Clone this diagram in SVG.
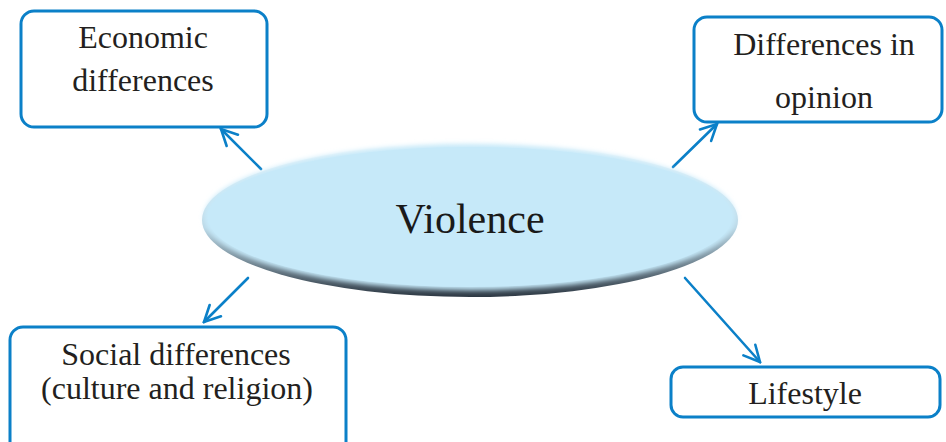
<svg xmlns="http://www.w3.org/2000/svg" width="946" height="442" viewBox="0 0 946 442">
<style>
.box{fill:#fff;stroke:#0b80c8;stroke-width:3}
.lbl{font-family:"Liberation Serif","DejaVu Serif",serif;font-size:32px;fill:#231f20;text-anchor:middle}
.center{font-family:"Liberation Serif","DejaVu Serif",serif;font-size:42px;fill:#1a1a1a;text-anchor:middle}
.conn{stroke:#0b80c8;stroke-width:2.6;fill:none;stroke-linecap:round}
</style>
<defs>
<marker id="ah" viewBox="0 0 20 20" refX="18" refY="10" markerWidth="20" markerHeight="20" markerUnits="userSpaceOnUse" orient="auto">
<path d="M2,2 L18,10 L2,18" fill="none" stroke="#0b80c8" stroke-width="2.6" stroke-linecap="round" stroke-linejoin="miter"/>
</marker>
<linearGradient id="rim" x1="0" y1="0" x2="0" y2="1">
<stop offset="0" stop-color="#ffffff"/>
<stop offset="0.55" stop-color="#b9d6e4"/>
<stop offset="1" stop-color="#2e3944"/>
</linearGradient>
<filter id="soft" x="-5%" y="-10%" width="110%" height="120%">
<feGaussianBlur stdDeviation="2.4"/>
</filter>
</defs>
<g id="connectors">
<line class="conn" x1="261" y1="169" x2="221" y2="129" marker-end="url(#ah)"/>
<line class="conn" x1="673" y1="167" x2="717" y2="124" marker-end="url(#ah)"/>
<line class="conn" x1="248" y1="278" x2="204" y2="322" marker-end="url(#ah)"/>
<line class="conn" x1="685" y1="278" x2="760" y2="362" marker-end="url(#ah)"/>
</g>
<g id="violence">
<ellipse cx="470" cy="220" rx="268" ry="77" fill="url(#rim)"/>
<ellipse cx="470" cy="217" rx="266" ry="73" fill="#c6e9f9" filter="url(#soft)"/>
<ellipse cx="470" cy="217" rx="262" ry="70" fill="#c6e9f9"/>
<text class="center" x="470" y="233">Violence</text>
</g>
<g id="economic">
<rect class="box" x="21" y="11" width="246" height="116" rx="13"/>
<text class="lbl" x="143" y="48">Economic</text>
<text class="lbl" x="143" y="91">differences</text>
</g>
<g id="opinion">
<rect class="box" x="694" y="17" width="248" height="105" rx="13"/>
<text class="lbl" x="824" y="55">Differences in</text>
<text class="lbl" x="824" y="108">opinion</text>
</g>
<g id="social">
<rect class="box" x="10" y="327" width="336" height="130" rx="13"/>
<text class="lbl" x="176" y="365">Social differences</text>
<text class="lbl" x="177" y="399">(culture and religion)</text>
</g>
<g id="lifestyle">
<rect class="box" x="671" y="367" width="269" height="50" rx="12"/>
<text class="lbl" x="805" y="404">Lifestyle</text>
</g>
</svg>
